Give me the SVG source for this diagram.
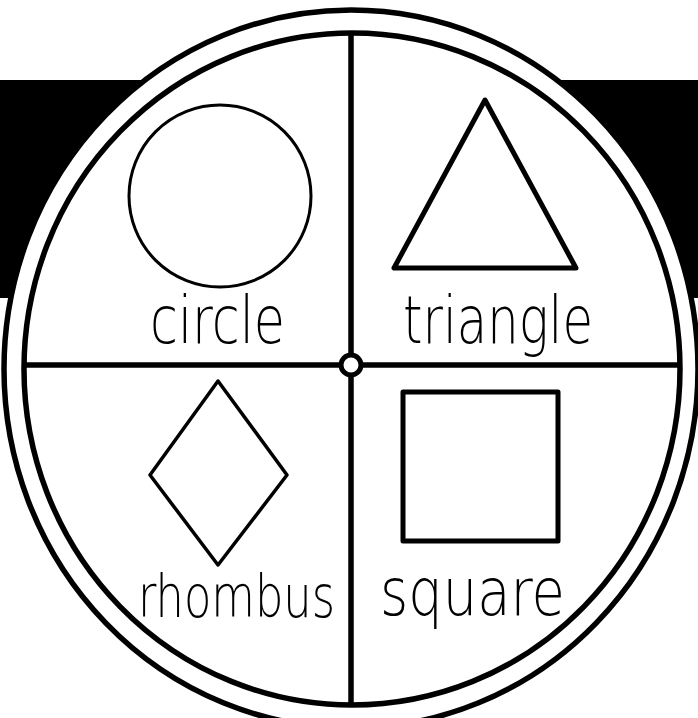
<svg xmlns="http://www.w3.org/2000/svg" width="698" height="718" viewBox="0 0 698 718">
<style>
.ring{fill:#fff;stroke:#000;stroke-width:5.5}
.div{stroke:#000;stroke-width:5.5;fill:none}
.shape{fill:#fff;stroke:#000;stroke-linejoin:round}
.lbl{font-family:"DejaVu Sans","Liberation Sans",sans-serif;font-weight:200;fill:#000;text-anchor:start}
</style>
<rect width="698" height="718" fill="#fff"/>
<rect x="0" y="80" width="698" height="218" fill="#000"/>
<g id="wheel">
<ellipse class="ring" cx="351" cy="369" rx="347" ry="359"/>
<ellipse class="ring" cx="352" cy="369" rx="328" ry="336"/>
</g>
<g id="connectors">
<line class="div" x1="351" y1="33" x2="351" y2="705"/>
<line class="div" x1="25" y1="365" x2="680" y2="365"/>
<circle cx="351" cy="365" r="10" fill="#fff" stroke="#000" stroke-width="5"/>
</g>
<g id="circle">
<circle class="shape" cx="220" cy="196" r="91" stroke-width="3"/>
<text class="lbl" x="150" y="343" font-size="66" textLength="135" lengthAdjust="spacingAndGlyphs">circle</text>
</g>
<g id="triangle">
<polygon class="shape" points="485,100 394,268 576,268" stroke-width="5"/>
<text class="lbl" x="403" y="343" font-size="66" textLength="190" lengthAdjust="spacingAndGlyphs">triangle</text>
</g>
<g id="rhombus">
<polygon class="shape" points="218,381 287,475 218,565 150,475" stroke-width="3.5"/>
<text class="lbl" x="138" y="617" font-size="58" textLength="197" lengthAdjust="spacingAndGlyphs">rhombus</text>
</g>
<g id="square">
<rect class="shape" x="403" y="392" width="155" height="149" stroke-width="5"/>
<text class="lbl" x="380" y="615" font-size="66" textLength="185" lengthAdjust="spacingAndGlyphs">square</text>
</g>
</svg>
